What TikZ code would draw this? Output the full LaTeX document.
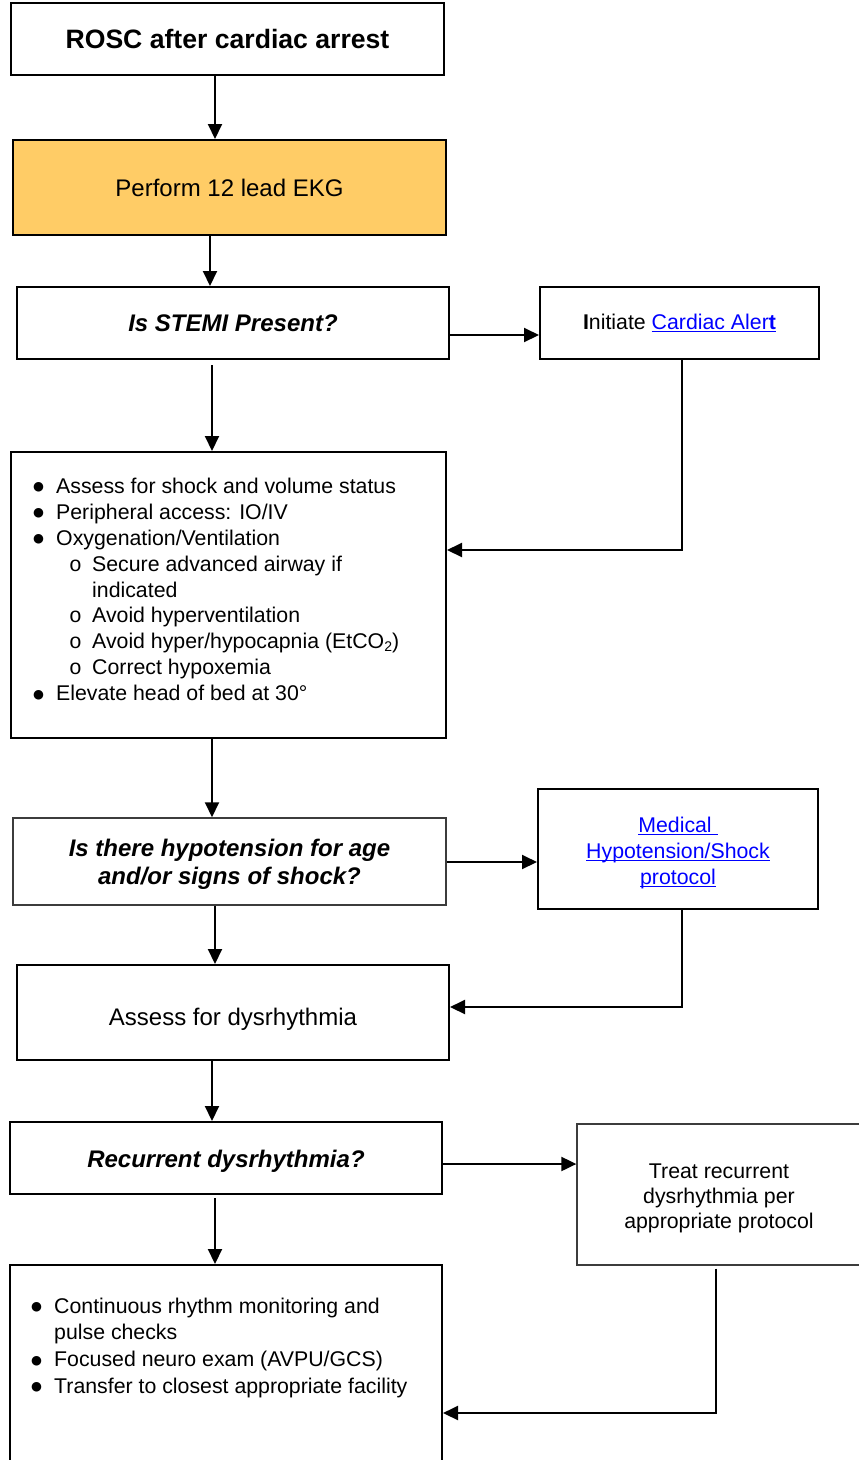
\documentclass[tikz,border=0pt]{standalone}
\usepackage{fontspec}
\setmainfont{Liberation Sans}
\newfontfamily\monofnt{Liberation Mono}
\newfontfamily\dotfnt{DejaVu Sans}
\usetikzlibrary{arrows.meta,calc}
\definecolor{ekgfill}{RGB}{255,204,102}
\definecolor{linkblue}{RGB}{0,0,255}
\definecolor{thinedge}{RGB}{60,60,60}

% underlined hyperlink-style text
\newcommand\lnk[1]{{\color{linkblue}\setbox0\hbox{#1}\rlap{\rule[-3pt]{\wd0}{1.2pt}}\box0}}
% list items
\newcommand\dotmark{\raisebox{2.5pt}{\dotfnt\fontsize{12.5}{12.5}\selectfont ●}}
\newcommand\bi[1]{\makebox[23pt][l]{\dotmark}#1}
\newcommand\sbi[1]{\hspace*{36pt}\makebox[23pt][l]{\monofnt o}#1}
% invisible strut that lowers a centred label
\newcommand\labdrop[1]{\rule{0pt}{#1}}

\tikzset{
  box/.style={draw, line width=2pt, inner sep=0pt, align=center,
              font=\fontsize{24}{28}\selectfont},
  sidebox/.style={box, font=\fontsize{21.3}{26}\selectfont},
  listtext/.style={inner sep=0pt, align=left, anchor=north west},
  arr/.style={line width=2pt, -{Triangle[length=15pt,width=14pt]}},
}

\begin{document}
\begin{tikzpicture}[x=1pt, y=-1pt]
\useasboundingbox (0,0) rectangle (859,1460);
\clip (0,0) rectangle (859,1460);

% boxes
\node[box, minimum width=433pt, minimum height=72pt,
      font=\fontsize{26.6}{30}\selectfont\bfseries] (rosc) at (227.5,39) {ROSC after cardiac arrest};
\node[box, fill=ekgfill, minimum width=433pt, minimum height=95pt] (ekg) at (229.5,187.5) {Perform 12 lead EKG};
\node[box, minimum width=432pt, minimum height=72pt] (stemi) at (233,323) {\bfseries\itshape Is STEMI Present?};
\node[sidebox, minimum width=279pt, minimum height=72pt] (alert) at (679.5,323)
  {{\bfseries I}nitiate \lnk{Cardiac Aler{\bfseries t}}};
\node[box, minimum width=435pt, minimum height=286pt] (bul1) at (228.5,595) {};
\node[listtext, font=\fontsize{21.3}{25.9}\selectfont] (list1) at (33,477.8) {%
  \bi{Assess for shock and volume status}\\
  \bi{Peripheral access: IO/IV}\\
  \bi{Oxygenation/Ventilation}\\
  \sbi{Secure advanced airway if}\\
  \hspace*{59pt}indicated\\
  \sbi{Avoid hyperventilation}\\
  \sbi{Avoid hyper/hypocapnia (EtCO\raisebox{-3pt}{\fontsize{14}{14}\selectfont 2})}\\
  \sbi{Correct hypoxemia}\\
  \bi{Elevate head of bed at 30°}};
\node[box, draw=thinedge, line width=1.5pt, minimum width=433pt, minimum height=87pt] (hypo) at (229.5,861.5)
  {\labdrop{23.5pt}\bfseries\itshape Is there hypotension for age\\ \bfseries\itshape and/or signs of shock?};
\node[sidebox, minimum width=280pt, minimum height=120pt] (med) at (678,849)
  {\labdrop{22.5pt}\lnk{Medical }\\ \lnk{Hypotension/Shock}\\ \lnk{protocol}};
\node[box, minimum width=432pt, minimum height=95pt] (dys) at (233,1012.5) {\labdrop{31.5pt}Assess for dysrhythmia};
\node[box, minimum width=432pt, minimum height=72pt] (rec) at (226,1158) {\labdrop{23.5pt}\bfseries\itshape Recurrent dysrhythmia?};
\node[sidebox, draw=thinedge, line width=1.3pt, minimum width=284pt, minimum height=141pt,
      font=\fontsize{21.3}{25}\selectfont] (treat) at (719,1194.5)
  {\labdrop{21.5pt}Treat recurrent\\ dysrhythmia per\\ appropriate protocol};
\node[box, minimum width=432pt, minimum height=215pt] (bul2) at (226,1372.5) {};
\node[listtext, font=\fontsize{21.3}{26.7}\selectfont] (list2) at (31,1297.5) {%
  \bi{Continuous rhythm monitoring and}\\
  \hspace*{23pt}pulse checks\\
  \bi{Focused neuro exam (AVPU/GCS)}\\
  \bi{Transfer to closest appropriate facility}};

% connector guide positions
\coordinate (x210) at (210,0);
\coordinate (x212) at (212,0);
\coordinate (x215) at (215,0);
\coordinate (x682) at (682,0);
\coordinate (x716) at (716,0);
\coordinate (y335) at (0,335);
\coordinate (y550) at (0,550);
\coordinate (y862) at (0,862);
\coordinate (y1007) at (0,1007);
\coordinate (y1164) at (0,1164);
\coordinate (y1413) at (0,1413);

% connectors
\draw[arr] (rosc.south -| x215) -- (ekg.north -| x215);
\draw[arr] (ekg.south -| x210) -- (stemi.north -| x210);
\draw[arr] (stemi.east |- y335) -- (alert.west |- y335);
\draw[arr] ($(stemi.south -| x212)+(0,5)$) -- (bul1.north -| x212);
\draw[arr] (alert.south -| x682) |- (bul1.east |- y550);
\draw[arr] (bul1.south -| x212) -- (hypo.north -| x212);
\draw[arr] (hypo.east |- y862) -- (med.west |- y862);
\draw[arr] (hypo.south -| x215) -- (dys.north -| x215);
\draw[arr] (med.south -| x682) |- (dys.east |- y1007);
\draw[arr] (dys.south -| x212) -- (rec.north -| x212);
\draw[arr] (rec.east |- y1164) -- (treat.west |- y1164);
\draw[arr] ($(rec.south -| x215)+(0,3)$) -- (bul2.north -| x215);
\draw[arr] ($(treat.south -| x716)+(0,3)$) |- (bul2.east |- y1413);
\end{tikzpicture}
\end{document}
